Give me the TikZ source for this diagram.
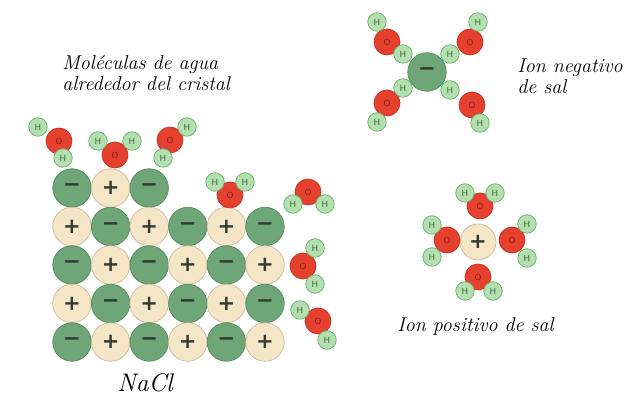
\documentclass[tikz,border=0pt]{standalone}
\usepackage{fontspec}
\usepackage{tikz}
\usetikzlibrary{positioning}

\newfontfamily\signos{DejaVu Sans}

\definecolor{verdeion}{HTML}{6FA677}
\definecolor{bordeverde}{HTML}{558C5E}
\definecolor{crema}{HTML}{F6E6C8}
\definecolor{bordecrema}{HTML}{CDBB98}
\definecolor{rojoO}{HTML}{E6412F}
\definecolor{bordeO}{HTML}{C3301F}
\definecolor{verdeH}{HTML}{B3E0AE}
\definecolor{bordeH}{HTML}{6AAE70}
\definecolor{signo}{HTML}{323A31}

\tikzstyle{ionneg} = [circle, draw=bordeverde, fill=verdeion, minimum size=0.77cm, inner sep=0pt, text=signo, font=\signos\bfseries\fontsize{12}{12}\selectfont]
\tikzstyle{ionpos} = [circle, draw=bordecrema, fill=crema, minimum size=0.77cm, inner sep=0pt, text=signo, font=\signos\bfseries\fontsize{12}{12}\selectfont]
\tikzstyle{oxigeno} = [circle, draw=bordeO, fill=rojoO, minimum size=0.52cm, inner sep=0pt, text=bordeO!60!black, font=\sffamily\tiny]
\tikzstyle{hidrogeno} = [circle, draw=bordeH, fill=verdeH, minimum size=0.37cm, inner sep=0pt, text=bordeH!60!black, font=\sffamily\tiny]
\tikzstyle{rotulo} = [font=\itshape\fontsize{11.4}{12}\selectfont, align=left, inner sep=0pt]

% one water molecule: name, O centre, H centre, H centre
\newcommand{\molagua}[4]{%
	\node (#1o) [oxigeno] at (#2) {O};
	\node (#1a) [hidrogeno] at (#3) {H};
	\node (#1b) [hidrogeno] at (#4) {H};
}

\begin{document}
\begin{tikzpicture}[x=0.02cm, y=-0.02cm]
		
		\useasboundingbox (0,0) rectangle (626,394);
		
		% NaCl lattice, top row only half filled
		\foreach \i in {1,...,5}{
			\foreach \j in {1,...,6}{
				\pgfmathtruncatemacro{\s}{mod(\i+\j,2)}
				\pgfmathtruncatemacro{\hueco}{(\i==1)&&(\j>3)}
				\ifnum\hueco=0
				\ifnum\s=0
				\node (c-\i-\j) [ionneg] at ({72+(\j-1)*38.6},{188+(\i-1)*38.5}) {−};
				\else
				\node (c-\i-\j) [ionpos] at ({72+(\j-1)*38.6},{188+(\i-1)*38.5}) {+};
				\fi
				\fi
			}
		}
		
		% water around the crystal
		\molagua{wa}{59,141}{38,127}{63,158}
		\molagua{wb}{115,155}{98,141}{132,141}
		\molagua{wc}{170,140}{187,127}{163,158}
		\molagua{wd}{230,195}{215,182}{245,182}
		\molagua{we}{308,192}{293,204}{325,204}
		\molagua{wf}{303,266}{315,248}{315,284}
		\molagua{wg}{318,321}{300,310}{327,340}
		
		\node (Cl) [ionneg] at (427,72) {−};
		\molagua{na}{387,42}{377,22}{403,54}
		\molagua{nb}{470,42}{478,22}{450,54}
		\molagua{nc}{387,103}{403,88}{377,122}
		\molagua{nd}{472,105}{450,90}{480,123}
		
		\node (Na) [ionpos, minimum size=0.72cm] at (478,242) {+};
		\molagua{pa}{480,206}{465,193}{495,193}
		\molagua{pb}{447,240}{432,225}{432,257}
		\molagua{pc}{512,240}{527,224}{527,258}
		\molagua{pd}{478,277}{465,291}{493,291}
		
		\node (txtagua) [rotulo, anchor=west] at (62,73) {Moléculas de agua\\alrededor del cristal};
		\node (txtneg) [rotulo, anchor=west] at (517,76) {Ion negativo\\de sal};
		\node (txtpos) [rotulo, anchor=west] at (397,326) {Ion positivo de sal};
		\node (txtnacl) [rotulo, font=\itshape\fontsize{14.5}{15}\selectfont] at (145,383) {NaCl};
		
\end{tikzpicture}
\end{document}
